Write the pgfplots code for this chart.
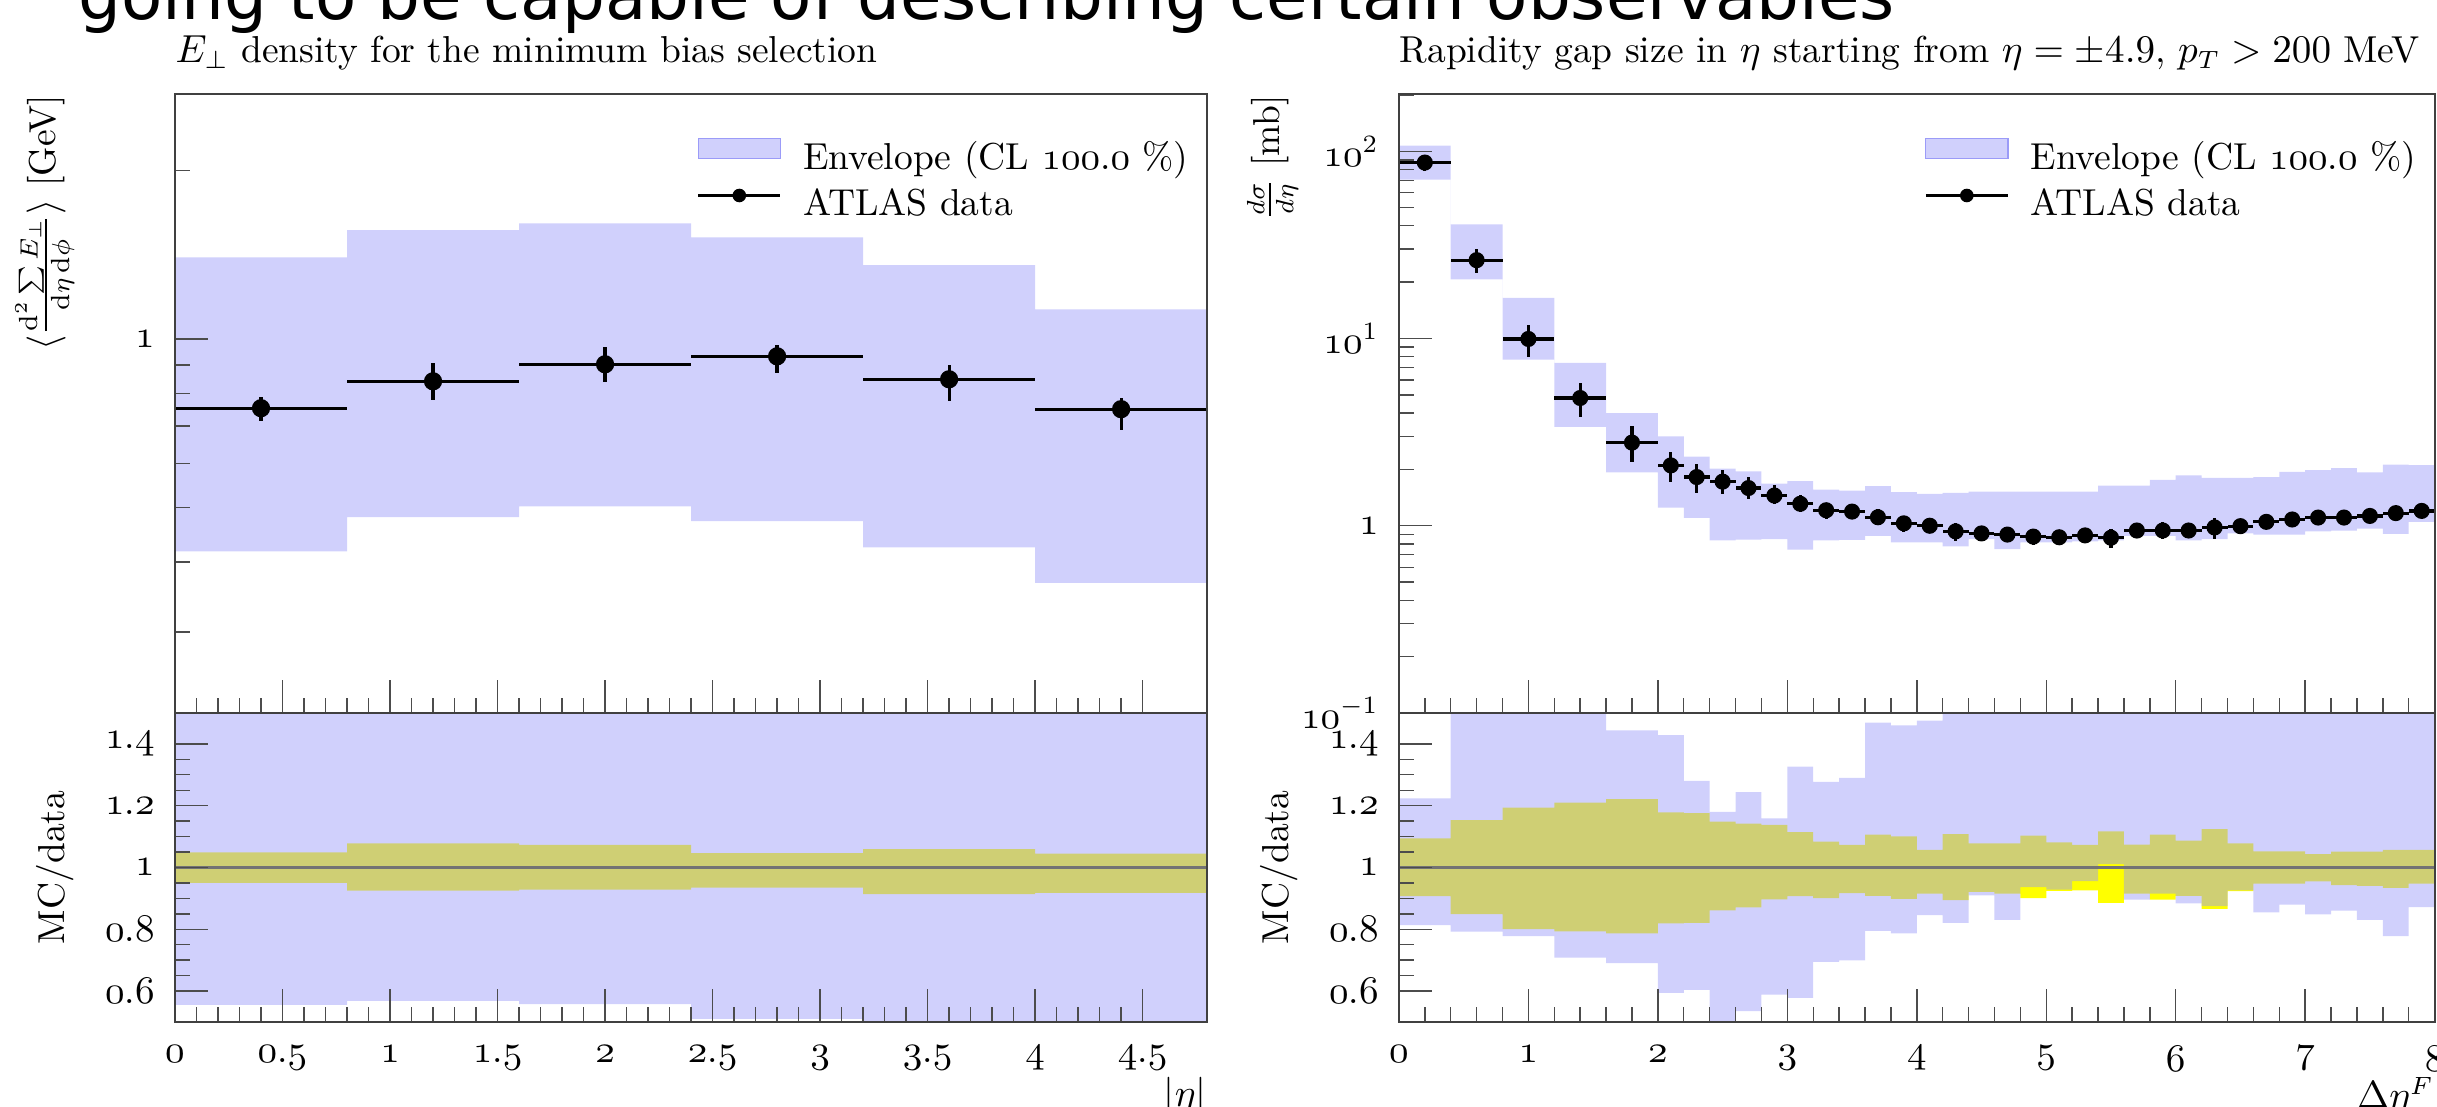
\documentclass[border=0pt]{standalone}
\usepackage{fontspec}
\usepackage{exscale}
\usepackage{pgfplots}
\pgfplotsset{compat=1.18}
\usepackage{pgfplotstable}
\usepgfplotslibrary{fillbetween}
\newfontfamily\slidefont{DejaVu Sans}
\newcommand\os[1]{{\usefont{OML}{cmm}{m}{it}#1}}
\definecolor{envcol}{RGB}{155,155,248}
\definecolor{datband}{RGB}{255,255,0}

% E_perp density, main panel
\pgfplotstableread{
lo  dn     up
0.0 0.418  1.400
0.8 0.481  1.566
1.6 0.503  1.610
2.4 0.473  1.520
3.2 0.425  1.356
4.0 0.367  1.130
4.8 0.367  1.130
}\lmband
\pgfplotstableread{
x   ex  y     ep    em
0.4 0.4 0.753 0.037 0.038
1.2 0.4 0.841 0.066 0.063
2.0 0.4 0.902 0.066 0.065
2.8 0.4 0.932 0.043 0.061
3.6 0.4 0.848 0.050 0.073
4.4 0.4 0.750 0.034 0.062
}\ldata
\pgfplotstableread{
lo  yd    yu    ed    eu
0.0 0.950 1.049 0.555 1.6
0.8 0.925 1.078 0.568 1.6
1.6 0.928 1.073 0.558 1.6
2.4 0.935 1.046 0.510 1.6
3.2 0.914 1.059 0.45  1.6
4.0 0.918 1.045 0.45  1.6
4.8 0.918 1.045 0.45  1.6
}\lrat

% rapidity gap, main panel
\pgfplotstableread{
lo  dn    up
0.0 70.6  107
0.4 20.7  40.7
0.8 7.72  16.5
1.2 3.37  7.42
1.6 1.93  4.00
2.0 1.25  3.00
2.2 1.10  2.34
2.4 0.835 2.02
2.6 0.843 1.95
2.8 0.847 1.68
3.0 0.746 1.73
3.2 0.835 1.56
3.4 0.840 1.54
3.6 0.884 1.63
3.8 0.814 1.51
4.0 0.814 1.48
4.2 0.776 1.50
4.4 0.847 1.52
4.6 0.750 1.52
4.8 0.814 1.52
5.0 0.814 1.52
5.2 0.826 1.52
5.4 0.835 1.64
5.6 0.884 1.64
5.8 0.884 1.76
6.0 0.835 1.86
6.2 0.847 1.80
6.4 0.910 1.80
6.6 0.897 1.82
6.8 0.897 1.94
7.0 0.933 1.98
7.2 0.943 2.03
7.4 0.965 1.93
7.6 0.906 2.12
7.8 1.050 2.11
8.0 1.050 2.11
}\rmband
\pgfplotstableread{
x   ex  y     ep    em
0.2 0.2 87    8.2   8.1
0.6 0.2 26.2  4.0   3.96
1.0 0.2 9.94  1.93  1.99
1.4 0.2 4.81  1.01  1.00
1.8 0.2 2.78  0.614 0.592
2.1 0.1 2.10  0.374 0.380
2.3 0.1 1.82  0.320 0.326
2.5 0.1 1.72  0.255 0.239
2.7 0.1 1.59  0.226 0.205
2.9 0.1 1.45  0.200 0.149
3.1 0.1 1.31  0.149 0.122
3.3 0.1 1.21  0.102 0.120
3.5 0.1 1.19  0.087 0.099
3.7 0.1 1.11  0.118 0.102
3.9 0.1 1.03  0.104 0.105
4.1 0.1 1.00  0.057 0.085
4.3 0.1 0.933 0.101 0.099
4.5 0.1 0.910 0.071 0.072
4.7 0.1 0.897 0.070 0.076
4.9 0.1 0.875 0.090 0.087
5.1 0.1 0.868 0.070 0.066
5.3 0.1 0.888 0.065 0.066
5.5 0.1 0.863 0.101 0.099
5.7 0.1 0.943 0.070 0.080
5.9 0.1 0.943 0.100 0.098
6.1 0.1 0.943 0.082 0.087
6.3 0.1 0.979 0.121 0.131
6.5 0.1 0.995 0.078 0.077
6.7 0.1 1.049 0.055 0.055
6.9 0.1 1.080 0.056 0.056
7.1 0.1 1.106 0.048 0.050
7.3 0.1 1.106 0.056 0.063
7.5 0.1 1.128 0.058 0.068
7.7 0.1 1.168 0.067 0.077
7.9 0.1 1.200 0.068 0.062
}\rdata
\pgfplotstableread{
lo  yd    yu    ed    eu
0.0 0.907 1.094 0.813 1.224
0.4 0.849 1.153 0.792 1.6
0.8 0.800 1.194 0.778 1.6
1.2 0.793 1.210 0.708 1.6
1.6 0.787 1.221 0.690 1.444
2.0 0.819 1.178 0.594 1.428
2.2 0.821 1.176 0.604 1.280
2.4 0.861 1.148 0.45  1.180
2.6 0.871 1.142 0.535 1.244
2.8 0.897 1.138 0.588 1.159
3.0 0.907 1.114 0.578 1.326
3.2 0.901 1.084 0.694 1.277
3.4 0.917 1.073 0.699 1.290
3.6 0.908 1.106 0.795 1.469
3.8 0.898 1.101 0.787 1.460
4.0 0.915 1.057 0.846 1.475
4.2 0.894 1.108 0.821 1.6
4.4 0.921 1.078 0.910 1.6
4.6 0.915 1.078 0.830 1.6
4.8 0.901 1.103 0.936 1.6
5.0 0.924 1.081 0.928 1.6
5.2 0.926 1.073 0.956 1.6
5.4 0.885 1.117 1.011 1.6
5.6 0.915 1.074 0.896 1.6
5.8 0.896 1.106 0.915 1.6
6.0 0.908 1.087 0.884 1.6
6.2 0.866 1.124 0.875 1.6
6.4 0.923 1.078 0.926 1.6
6.6 0.948 1.052 0.855 1.6
6.8 0.948 1.052 0.880 1.6
7.0 0.955 1.043 0.848 1.6
7.2 0.943 1.051 0.860 1.6
7.4 0.940 1.051 0.830 1.6
7.6 0.934 1.057 0.778 1.6
7.8 0.948 1.057 0.872 1.6
8.0 0.948 1.057 0.872 1.6
}\rrat

\pgfplotsset{
  rivet/.style={
    scale only axis, axis on top,
    tick align=inside, tick pos=left,
    major tick length=9.2pt, minor tick length=4.2pt,
    every tick/.style={black!70, line width=0.4pt},
    axis line style={black!75, line width=0.5pt},
    yticklabel style={xshift=-2pt},
  },
  datapts/.style={black, line width=0.9pt, only marks, mark=*, mark size=#1,
    error bars/.cd, x dir=both, x explicit, y dir=both, y explicit,
    error mark=none, error bar style={line width=0.9pt, black}},
  rlegend/.style={
    legend style={draw=none, fill=none, at={(axis description cs:1,1)},
      anchor=north east, xshift=-5pt, yshift=-12.1pt, inner sep=0pt,
      row sep=2.7pt, column sep=5.9pt,
      nodes={inner sep=0pt, text height=7.5pt, text depth=2.5pt}},
    legend cell align=left,
  },
  envband/.style={fill=envcol, fill opacity=0.47, draw=none, forget plot},
}

\begin{document}
\fontsize{10.5}{12.6}\selectfont
\begin{tikzpicture}

% ---------- left: E_perp density ----------
\begin{axis}[rivet, rlegend, at={(0pt,0pt)}, anchor=south west,
  width=289pt, height=173.3pt,
  xmin=0, xmax=4.8, ymode=log, ymin=0.215, ymax=2.74,
  xtick={0,0.5,...,4.5}, minor x tick num=4, xticklabel=\empty,
  ytick={1}, yticklabels={\os{1}},
  minor ytick={0.3,0.4,0.5,0.6,0.7,0.8,0.9,2},
  title={$E_\perp$ density for the minimum bias selection},
  title style={at={(axis description cs:0,1)}, anchor=base west, yshift=2.7pt, inner sep=0pt},
  ylabel={$\langle \frac{\mathrm{d}^2 \sum E_\perp}{\mathrm{d}\eta\,\mathrm{d}\phi} \rangle$ [GeV]},
  ylabel style={at={(axis description cs:-0.0969,1)}, anchor=south east, inner sep=0pt},
]
\addplot[draw=none, const plot, name path=lmU, forget plot] table[x=lo, y=up]{\lmband};
\addplot[draw=none, const plot, name path=lmD, forget plot] table[x=lo, y=dn]{\lmband};
\addplot[envband] fill between[of=lmU and lmD];
\addplot[forget plot, datapts=2.1pt] table[x=x, y=y, x error=ex, y error plus=ep, y error minus=em]{\ldata};
\addlegendimage{legend image code/.code={\fill[envcol, fill opacity=0.47] (0pt,0.6pt) rectangle (23pt,6.2pt);}}
\addlegendentry{Envelope (CL \os{100}.\os{0}~\%)}
\addlegendimage{legend image code/.code={\draw[line width=0.9pt] (0pt,3pt) -- (23pt,3pt); \fill (11.5pt,3pt) circle (1.7pt);}}
\addlegendentry{ATLAS data}
\end{axis}

\begin{axis}[rivet, at={(0pt,0pt)}, anchor=north west,
  width=289pt, height=86.5pt,
  xmin=0, xmax=4.8, ymin=0.5, ymax=1.5,
  xtick={0,0.5,...,4.5}, minor x tick num=4,
  xticklabels={\os{0},\os{0}.\os{5},\os{1},\os{1}.\os{5},\os{2},\os{2}.\os{5},\os{3},\os{3}.\os{5},\os{4},\os{4}.\os{5}},
  xticklabel style={yshift=-3pt},
  ytick={0.6,0.8,1,1.2,1.4}, minor y tick num=3,
  yticklabels={\os{0}.\os{6},\os{0}.\os{8},\os{1},\os{1}.\os{2},\os{1}.\os{4}},
  xlabel={$|\eta|$},
  xlabel style={at={(axis description cs:1,-0.178)}, anchor=north east, inner sep=0pt},
  ylabel={MC/data},
  ylabel style={at={(axis description cs:-0.0969,0.5)}, anchor=south, inner sep=0pt},
]
\addplot[draw=none, const plot, name path=lyU, forget plot] table[x=lo, y=yu]{\lrat};
\addplot[draw=none, const plot, name path=lyD, forget plot] table[x=lo, y=yd]{\lrat};
\addplot[fill=datband, draw=none, forget plot] fill between[of=lyU and lyD];
\addplot[draw=none, const plot, name path=leU, forget plot] table[x=lo, y=eu]{\lrat};
\addplot[draw=none, const plot, name path=leD, forget plot] table[x=lo, y=ed]{\lrat};
\addplot[envband] fill between[of=leU and leD];
\addplot[black!55, line width=0.6pt, forget plot] coordinates {(0,1) (4.8,1)};
\end{axis}

% ---------- right: rapidity gap ----------
\begin{axis}[rivet, rlegend, at={(342.7pt,0pt)}, anchor=south west,
  width=290pt, height=173.3pt,
  xmin=0, xmax=8, ymode=log, ymin=0.1, ymax=202,
  xtick={0,1,...,8}, minor x tick num=4, xticklabel=\empty,
  ytick={0.1,1,10,100},
  yticklabels={\os{10}$^{-1}$,\os{1},\os{10}$^{1}$,\os{10}$^{2}$},
  minor ytick={0.2,0.3,0.4,0.5,0.6,0.7,0.8,0.9,2,3,4,5,6,7,8,9,20,30,40,50,60,70,80,90,200},
  title={Rapidity gap size in $\eta$ starting from $\eta = \pm4.9$, $p_T > 200$ MeV},
  title style={at={(axis description cs:0,1)}, anchor=base west, yshift=2.7pt, inner sep=0pt},
  ylabel={$\frac{d\sigma}{d\eta}$ [mb]},
  ylabel style={at={(axis description cs:-0.0966,1)}, anchor=south east, inner sep=0pt},
]
\addplot[draw=none, const plot, name path=rmU, forget plot] table[x=lo, y=up]{\rmband};
\addplot[draw=none, const plot, name path=rmD, forget plot] table[x=lo, y=dn]{\rmband};
\addplot[envband] fill between[of=rmU and rmD];
\addplot[forget plot, datapts=1.8pt] table[x=x, y=y, x error=ex, y error plus=ep, y error minus=em]{\rdata};
\addlegendimage{legend image code/.code={\fill[envcol, fill opacity=0.47] (0pt,0.6pt) rectangle (23pt,6.2pt);}}
\addlegendentry{Envelope (CL \os{100}.\os{0}~\%)}
\addlegendimage{legend image code/.code={\draw[line width=0.9pt] (0pt,3pt) -- (23pt,3pt); \fill (11.5pt,3pt) circle (1.7pt);}}
\addlegendentry{ATLAS data}
\end{axis}

\begin{axis}[rivet, at={(342.7pt,0pt)}, anchor=north west,
  width=290pt, height=86.5pt,
  xmin=0, xmax=8, ymin=0.5, ymax=1.5,
  xtick={0,1,...,8}, minor x tick num=4,
  xticklabels={\os{0},\os{1},\os{2},\os{3},\os{4},\os{5},\os{6},\os{7},\os{8}},
  xticklabel style={yshift=-3pt},
  ytick={0.6,0.8,1,1.2,1.4}, minor y tick num=3,
  yticklabels={\os{0}.\os{6},\os{0}.\os{8},\os{1},\os{1}.\os{2},\os{1}.\os{4}},
  xlabel={$\Delta\eta^F$},
  xlabel style={at={(axis description cs:1,-0.178)}, anchor=north east, inner sep=0pt},
  ylabel={MC/data},
  ylabel style={at={(axis description cs:-0.0966,0.5)}, anchor=south, inner sep=0pt},
]
\addplot[draw=none, const plot, name path=ryU, forget plot] table[x=lo, y=yu]{\rrat};
\addplot[draw=none, const plot, name path=ryD, forget plot] table[x=lo, y=yd]{\rrat};
\addplot[fill=datband, draw=none, forget plot] fill between[of=ryU and ryD];
\addplot[draw=none, const plot, name path=reU, forget plot] table[x=lo, y=eu]{\rrat};
\addplot[draw=none, const plot, name path=reD, forget plot] table[x=lo, y=ed]{\rrat};
\addplot[envband] fill between[of=reU and reD];
\addplot[black!55, line width=0.6pt, forget plot] coordinates {(0,1) (8,1)};
\end{axis}

\node[anchor=base west, inner sep=0pt, font=\slidefont\fontsize{18.9}{22}\selectfont]
  at (-27.2pt,194.2pt) {going to be capable of describing certain observables};

\pgfresetboundingbox
\path[use as bounding box] (-49pt,-110.32pt) rectangle (633.36pt,199.64pt);
\end{tikzpicture}
\end{document}
